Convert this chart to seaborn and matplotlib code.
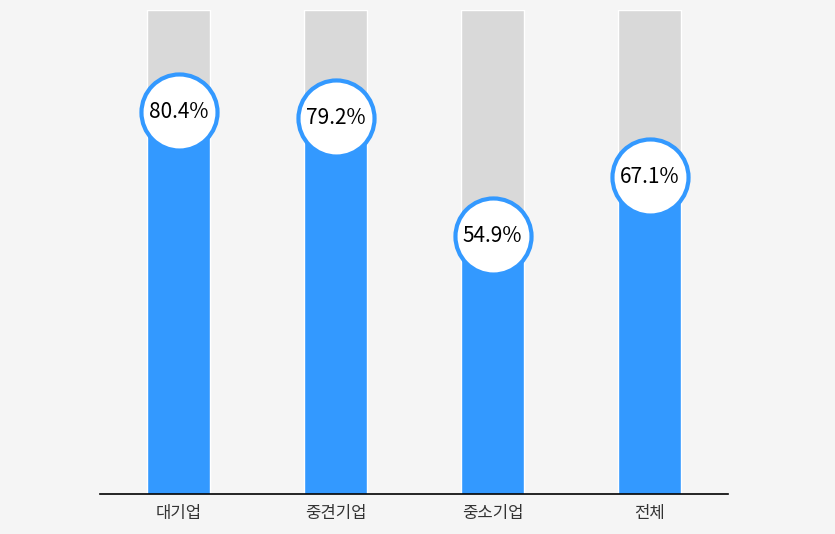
import matplotlib.pyplot as plt
import seaborn as sns
import pandas as pd

categories = ['대기업', '중견기업', '중소기업', '전체']
values = [80.4, 79.2, 54.9, 67.1]
full = [100, 100, 100, 100]

sns.set_style('white')
plt.rcParams['font.family'] = ['Noto Sans CJK KR', 'DejaVu Sans']

df = pd.DataFrame({'category': categories, 'value': values, 'full': full})

fig = plt.figure(figsize=(8.35, 5.34), dpi=100)
fig.patch.set_facecolor('#f5f5f5')
ax = fig.add_axes([0.12, 0.075, 0.752, 0.906])
ax.set_facecolor('#f5f5f5')

sns.barplot(data=df, x='category', y='full', color='#d9d9d9', width=0.4, ax=ax, saturation=1)
sns.barplot(data=df, x='category', y='value', color='#3399ff', width=0.4, ax=ax, saturation=1)

xs = range(len(categories))
ys = [v - 1.5 for v in values]
ax.scatter(xs, ys, s=3000, color='white', edgecolor='#3399ff', linewidth=3, zorder=5, clip_on=False)
for x, y, v in zip(xs, ys, values):
    ax.text(x, y, f'{v}%', ha='center', va='center', fontsize=15, color='black', zorder=6)

ax.set_ylim(0, 100)
ax.set_xlim(-0.5, 3.5)
ax.set_xlabel('')
ax.set_ylabel('')
ax.set_yticks([])
ax.tick_params(axis='x', length=0, labelsize=12, colors='#333333', pad=8)
for s in ['top', 'right', 'left']:
    ax.spines[s].set_visible(False)
ax.spines['bottom'].set_color('black')
ax.spines['bottom'].set_linewidth(1.2)

fig.savefig('out.png', dpi=100, facecolor=fig.get_facecolor())
